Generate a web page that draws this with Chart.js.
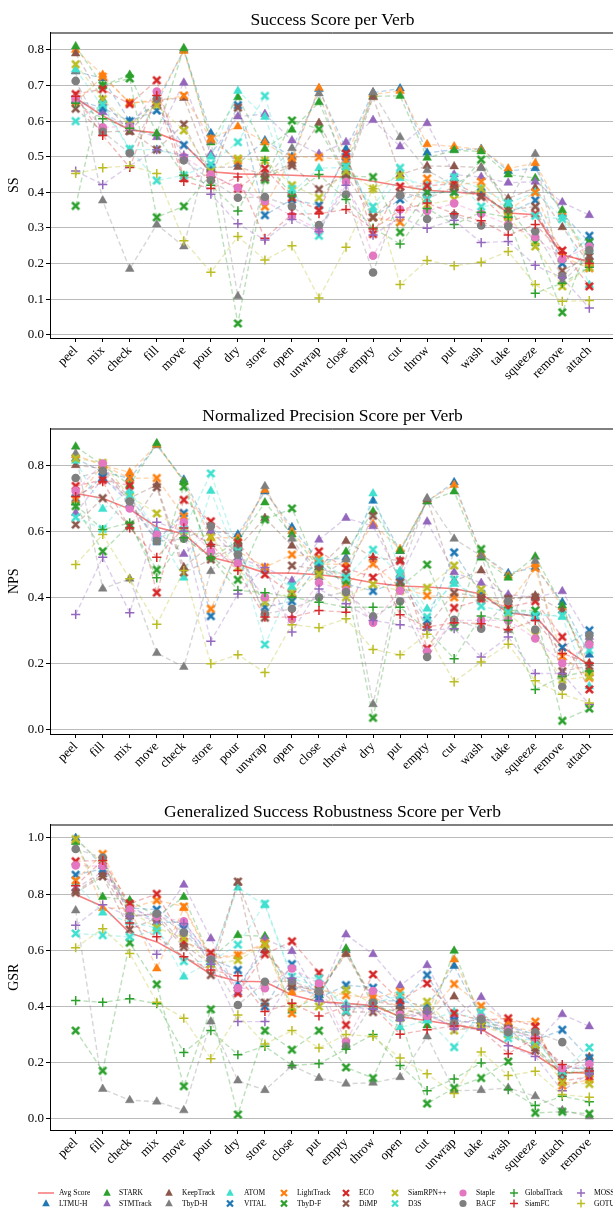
<!DOCTYPE html>
<html>
<head>
<meta charset="utf-8">
<script src="https://cdn.jsdelivr.net/npm/chart.js@4.4.1/dist/chart.umd.min.js"></script>
<style>
  html, body { margin: 0; padding: 0; width: 613px; height: 1210px; overflow: hidden; background: #fff; }
  canvas.plot { position: absolute; left: 0; }
  #legendMarks { position: absolute; left: 0; top: 1180px; }
  .lg { position: absolute; white-space: nowrap; font-family: 'Liberation Serif', 'DejaVu Serif', serif;
        font-size: 7.5px; line-height: 10px; height: 10px; color: #000; }
</style>
</head>
<body>
<canvas id="ssChart" class="plot" width="680" height="396" style="top:0px"></canvas>
<canvas id="npsChart" class="plot" width="680" height="396" style="top:396px"></canvas>
<canvas id="gsrChart" class="plot" width="680" height="396" style="top:792px"></canvas>
<canvas id="legendMarks" width="613" height="30"></canvas>
<div id="legendText"></div>

<script>
const SERIF = "'Liberation Serif', 'DejaVu Serif', serif";

const trackers = ['LTMU-H', 'LTMU-F', 'STARK', 'STMTrack', 'KeepTrack', 'TbyD-H', 'ATOM', 'VITAL',
                  'LightTrack', 'TbyD-F', 'ECO', 'DiMP', 'SiamRPN++', 'D3S', 'Staple', 'BACF',
                  'GlobalTrack', 'SiamFC', 'MOSSE', 'GOTURN'];
const colors = ['#1f77b4', '#ff7f0e', '#2ca02c', '#9467bd', '#8c564b', '#7f7f7f', '#40e0d0', '#1f77b4',
                '#ff7f0e', '#2ca02c', '#d62728', '#8c564b', '#bcbd22', '#40e0d0', '#e377c2', '#7f7f7f',
                '#2ca02c', '#d62728', '#9467bd', '#bcbd22'];
const markers = ['tri', 'tri', 'tri', 'tri', 'tri', 'tri', 'tri', 'x',
                 'x', 'x', 'x', 'x', 'x', 'x', 'circle', 'circle',
                 'plus', 'plus', 'plus', 'plus'];

// ---- Success Score (SS) ----
const ssVerbs = ['peel','mix','check','fill','move','pour','dry','store','open','unwrap',
                 'close','empty','cut','throw','put','wash','take','squeeze','remove','attach'];
const ssAvg = [.665,.615,.575,.567,.537,.458,.452,.45,.448,.445,.443,.431,.418,.406,.401,.395,.342,.337,.224,.206];
const ssScores = [
  [.74,.72,.60,.65,.80,.566,.48,.546,.50,.69,.522,.68,.692,.511,.52,.522,.46,.468,.34,.26],      // LTMU-H
  [.80,.73,.65,.66,.797,.55,.585,.54,.49,.693,.50,.675,.685,.535,.529,.52,.467,.482,.345,.20],  // LTMU-F
  [.81,.70,.73,.565,.805,.54,.667,.522,.576,.653,.48,.67,.671,.497,.518,.515,.45,.44,.35,.21],  // STARK
  [.66,.625,.58,.555,.708,.507,.613,.62,.546,.508,.541,.603,.529,.594,.45,.443,.427,.43,.372,.336], // STMTrack
  [.79,.66,.57,.66,.665,.47,.471,.45,.48,.595,.45,.667,.45,.474,.473,.47,.383,.413,.302,.20],   // KeepTrack
  [.74,.377,.185,.31,.248,.545,.108,.44,.524,.678,.46,.681,.555,.462,.42,.468,.37,.508,.15,.22], // TbyD-H
  [.745,.64,.52,.52,.50,.50,.685,.612,.40,.468,.47,.35,.44,.42,.44,.41,.37,.40,.33,.14],        // ATOM
  [.66,.637,.60,.63,.533,.47,.645,.336,.38,.364,.50,.33,.38,.40,.40,.40,.34,.378,.20,.278],     // VITAL
  [.653,.725,.652,.655,.672,.55,.49,.36,.499,.499,.49,.33,.316,.439,.42,.43,.35,.40,.22,.187],  // LightTrack
  [.362,.70,.72,.33,.361,.45,.032,.435,.602,.578,.446,.443,.288,.40,.40,.492,.355,.26,.063,.26], // TbyD-F
  [.676,.69,.648,.715,.44,.45,.41,.467,.385,.35,.509,.283,.417,.418,.425,.39,.318,.34,.237,.136], // ECO
  [.635,.57,.572,.52,.591,.44,.638,.441,.475,.409,.45,.33,.40,.382,.415,.387,.35,.36,.18,.22],  // DiMP
  [.76,.662,.59,.645,.574,.46,.495,.49,.42,.385,.46,.41,.448,.366,.38,.41,.33,.248,.136,.19],   // SiamRPN++
  [.60,.648,.522,.433,.448,.48,.541,.671,.41,.278,.473,.36,.469,.38,.443,.36,.369,.334,.325,.24], // D3S
  [.662,.583,.585,.683,.50,.45,.413,.375,.334,.295,.43,.222,.352,.348,.369,.34,.31,.274,.213,.248], // Staple
  [.713,.57,.51,.662,.49,.434,.385,.387,.36,.308,.394,.175,.392,.325,.336,.307,.304,.291,.164,.238], // BACF
  [.65,.607,.58,.56,.448,.42,.348,.49,.39,.45,.38,.30,.255,.355,.31,.344,.33,.117,.145,.19],    // GlobalTrack
  [.67,.56,.47,.672,.431,.411,.443,.271,.339,.34,.352,.297,.35,.37,.34,.32,.28,.31,.23,.20],    // SiamFC
  [.46,.422,.475,.52,.505,.395,.312,.266,.324,.29,.42,.28,.33,.299,.322,.259,.262,.195,.16,.075], // MOSSE
  [.453,.469,.475,.453,.264,.176,.276,.21,.25,.103,.246,.41,.141,.209,.194,.204,.234,.141,.094,.096] // GOTURN
];
const ssTicks = [0, .1, .2, .3, .4, .5, .6, .7, .8];

// ---- Normalized Precision Score (NPS) ----
const npsVerbs = ['peel','fill','mix','move','check','store','pour','unwrap','open','close',
                  'throw','dry','put','empty','cut','wash','take','squeeze','remove','attach'];
const npsAvg = [.714,.70,.667,.612,.592,.521,.501,.474,.473,.468,.459,.444,.434,.431,.426,.41,.353,.343,.25,.194];
const npsScores = [
  [.82,.78,.76,.86,.756,.60,.59,.72,.612,.51,.52,.692,.54,.69,.748,.53,.473,.49,.385,.226],
  [.83,.80,.778,.862,.75,.58,.58,.725,.60,.50,.50,.622,.546,.692,.74,.531,.465,.50,.37,.18],
  [.856,.80,.74,.866,.75,.52,.57,.687,.59,.49,.538,.66,.54,.69,.72,.52,.459,.523,.375,.17],
  [.655,.76,.70,.60,.531,.60,.52,.49,.45,.574,.64,.615,.46,.629,.476,.443,.408,.40,.418,.28],
  [.80,.79,.70,.74,.491,.56,.55,.64,.556,.49,.57,.52,.511,.697,.45,.481,.395,.405,.36,.20],
  [.835,.426,.456,.231,.189,.479,.56,.736,.577,.46,.514,.076,.47,.70,.577,.525,.30,.51,.17,.27],
  [.813,.667,.722,.60,.459,.722,.51,.48,.43,.51,.453,.714,.48,.365,.44,.40,.36,.353,.34,.13],
  [.70,.763,.684,.57,.655,.343,.55,.37,.388,.50,.44,.419,.45,.33,.536,.41,.36,.34,.248,.30],
  [.695,.80,.76,.761,.645,.365,.54,.491,.529,.52,.44,.501,.43,.405,.40,.40,.38,.488,.221,.156],
  [.676,.539,.62,.483,.735,.526,.453,.635,.669,.48,.45,.035,.43,.499,.31,.546,.36,.36,.026,.063],
  [.737,.755,.738,.414,.695,.63,.565,.469,.41,.539,.488,.46,.51,.245,.368,.392,.37,.388,.28,.121],
  [.62,.70,.615,.733,.475,.514,.555,.338,.496,.485,.47,.647,.444,.31,.414,.40,.395,.40,.176,.192],
  [.821,.807,.705,.654,.60,.582,.49,.385,.415,.47,.40,.439,.42,.429,.496,.424,.35,.285,.15,.16],
  [.642,.607,.71,.58,.605,.775,.54,.257,.434,.51,.46,.544,.471,.34,.454,.373,.355,.345,.345,.24],
  [.722,.805,.669,.59,.627,.539,.503,.40,.333,.444,.42,.323,.42,.236,.33,.33,.33,.275,.20,.257],
  [.761,.783,.69,.57,.577,.615,.529,.35,.365,.40,.416,.342,.388,.219,.332,.305,.388,.302,.129,.285],
  [.68,.605,.625,.459,.58,.52,.421,.414,.40,.385,.37,.37,.37,.30,.214,.343,.33,.121,.16,.177],
  [.705,.75,.61,.521,.61,.56,.481,.34,.34,.36,.355,.521,.347,.31,.323,.32,.302,.33,.23,.20],
  [.348,.521,.353,.627,.60,.267,.41,.49,.295,.425,.38,.33,.317,.30,.305,.219,.28,.169,.169,.076],
  [.499,.59,.456,.318,.481,.199,.226,.172,.317,.308,.335,.242,.226,.288,.144,.204,.258,.147,.106,.08]
];
const npsTicks = [0, .2, .4, .6, .8];

// ---- Generalized Success Robustness (GSR) ----
const gsrVerbs = ['peel','fill','check','mix','move','pour','dry','store','close','put',
                  'empty','throw','open','cut','unwrap','take','wash','squeeze','attach','remove'];
const gsrAvg = [.799,.756,.662,.63,.577,.515,.49,.488,.441,.417,.411,.403,.364,.349,.335,.319,.264,.228,.165,.163];
const gsrScores = [
  [1.0,.90,.76,.70,.70,.58,.475,.60,.47,.44,.60,.42,.42,.40,.544,.36,.33,.30,.18,.18],
  [.99,.75,.75,.535,.75,.57,.58,.62,.45,.46,.59,.43,.40,.38,.567,.37,.33,.31,.17,.16],
  [.985,.79,.778,.72,.79,.57,.654,.65,.385,.44,.606,.40,.38,.332,.598,.35,.32,.29,.16,.17],
  [.82,.88,.74,.70,.833,.642,.45,.64,.597,.43,.656,.586,.474,.547,.36,.433,.34,.27,.372,.329],
  [.81,.87,.72,.73,.62,.55,.84,.60,.48,.45,.586,.42,.40,.36,.435,.34,.30,.25,.17,.22],
  [.742,.106,.066,.061,.03,.346,.136,.102,.189,.145,.125,.128,.148,.293,.10,.102,.11,.08,.03,.008],
  [.84,.734,.70,.68,.506,.56,.823,.76,.50,.47,.41,.40,.325,.35,.38,.35,.30,.26,.15,.20],
  [.869,.89,.75,.745,.677,.57,.53,.40,.551,.43,.476,.467,.408,.512,.35,.34,.31,.28,.317,.216],
  [.849,.943,.75,.778,.756,.575,.583,.625,.375,.46,.44,.43,.453,.37,.48,.402,.345,.346,.118,.14],
  [.314,.171,.627,.479,.116,.39,.015,.314,.246,.314,.183,.145,.36,.054,.11,.145,.204,.021,.025,.018],
  [.917,.92,.766,.801,.63,.591,.447,.586,.632,.52,.334,.514,.42,.482,.376,.35,.358,.329,.134,.15],
  [.805,.863,.674,.715,.612,.512,.845,.414,.47,.46,.38,.38,.39,.37,.33,.33,.32,.243,.161,.17],
  [.996,.91,.74,.68,.644,.55,.565,.62,.40,.40,.459,.41,.36,.417,.314,.33,.30,.264,.13,.124],
  [.66,.654,.648,.67,.561,.56,.62,.766,.506,.50,.384,.41,.44,.355,.255,.38,.287,.28,.17,.254],
  [.902,.90,.745,.72,.703,.57,.465,.465,.535,.482,.275,.455,.37,.366,.33,.36,.315,.29,.18,.195],
  [.961,.93,.722,.73,.663,.567,.405,.488,.49,.453,.258,.414,.36,.385,.34,.355,.308,.308,.273,.163],
  [.421,.415,.427,.41,.236,.314,.228,.258,.19,.196,.248,.30,.19,.10,.142,.199,.104,.047,.08,.061],
  [.83,.92,.697,.648,.577,.53,.509,.382,.411,.366,.40,.40,.301,.317,.33,.317,.232,.287,.193,.17],
  [.689,.762,.72,.586,.695,.55,.346,.346,.50,.42,.40,.39,.35,.38,.32,.32,.26,.222,.10,.16],
  [.609,.677,.589,.415,.358,.214,.37,.266,.314,.252,.30,.293,.216,.16,.09,.238,.154,.169,.086,.077]
];
const gsrTicks = [0, .2, .4, .6, .8, 1.0];

const AVG_COLOR = '#f87f7f';

function rgba(hex, a) {
  const n = parseInt(hex.slice(1), 16);
  return `rgba(${(n >> 16) & 255},${(n >> 8) & 255},${n & 255},${a})`;
}

// filled "X" marker like matplotlib's 'X'
function drawX(ctx, cx, cy, r, color) {
  ctx.save();
  ctx.strokeStyle = color;
  ctx.lineWidth = r * 0.75;
  ctx.beginPath();
  ctx.moveTo(cx - r, cy - r); ctx.lineTo(cx + r, cy + r);
  ctx.moveTo(cx + r, cy - r); ctx.lineTo(cx - r, cy + r);
  ctx.stroke();
  ctx.restore();
}

function makeXImage(color) {
  const c = document.createElement('canvas');
  c.width = 11; c.height = 11;
  drawX(c.getContext('2d'), 5.5, 5.5, 3.6, color);
  return c;
}

function buildDatasets(scores, avg) {
  const n = trackers.length;
  const sets = [{
    label: 'Avg Score',
    data: avg.map((v, i) => ({ x: i, y: v })),
    borderColor: AVG_COLOR, borderWidth: 1.6, pointRadius: 0, order: n + 1
  }];
  trackers.forEach((name, k) => {
    const col = colors[k];
    const m = markers[k];
    const ds = {
      label: name,
      data: scores[k].map((v, i) => ({ x: i, y: v })),
      borderColor: rgba(col, 0.32), borderWidth: 1.4, borderDash: [5, 3],
      pointBackgroundColor: col, pointBorderColor: col,
      order: n - k
    };
    if (m === 'tri') Object.assign(ds, { pointStyle: 'triangle', pointRadius: 5, pointBorderWidth: 0.5 });
    if (m === 'circle') Object.assign(ds, { pointStyle: 'circle', pointRadius: 4.3, pointBorderWidth: 0 });
    if (m === 'plus') Object.assign(ds, { pointStyle: 'cross', pointRadius: 4.6, pointBorderWidth: 1.5 });
    if (m === 'x') Object.assign(ds, { pointStyle: makeXImage(col), pointRadius: 5 });
    sets.push(ds);
  });
  return sets;
}

// top spine, and title centred over the plot area like matplotlib
const frame = {
  id: 'frame',
  afterLayout(chart) {
    const t = chart.titleBlock, a = chart.chartArea;
    if (t) { t.left = a.left; t.right = a.right; t.width = a.right - a.left; }
  },
  afterDraw(chart) {
    const { ctx, chartArea: a } = chart;
    ctx.save();
    ctx.strokeStyle = '#000';
    ctx.lineWidth = 1;
    ctx.beginPath();
    ctx.moveTo(a.left, a.top + 0.5);
    ctx.lineTo(a.right, a.top + 0.5);
    ctx.lineTo(a.right, a.bottom);
    ctx.stroke();
    ctx.restore();
  }
};

function drawChart(id, title, ylabel, verbs, avg, scores, yMin, yMax, yTicks) {
  new Chart(document.getElementById(id), {
    type: 'line',
    data: { datasets: buildDatasets(scores, avg) },
    plugins: [frame],
    options: {
      responsive: false, animation: false, devicePixelRatio: 1,
      layout: { padding: { left: 0, right: 65, top: 0, bottom: 0 } },
      plugins: {
        legend: { display: false },
        tooltip: { enabled: false },
        title: {
          display: true, text: title, color: '#000',
          font: { size: 17.5, family: SERIF, weight: 'normal' },
          padding: { top: 10, bottom: 1.5 }
        }
      },
      scales: {
        x: {
          type: 'linear', min: -0.95, max: verbs.length - 0.05,
          afterBuildTicks: s => { s.ticks = verbs.map((v, i) => ({ value: i })); },
          afterFit: s => { s.height = 58; },
          ticks: {
            autoSkip: false, minRotation: 45, maxRotation: 45, padding: 1, color: '#000',
            font: { size: 13, family: SERIF }, callback: v => verbs[v]
          },
          grid: { drawOnChartArea: false, drawTicks: true, tickLength: 4, tickColor: '#000' },
          border: { color: '#000', width: 1 }
        },
        y: {
          min: yMin, max: yMax,
          afterBuildTicks: s => { s.ticks = yTicks.map(v => ({ value: v })); },
          afterFit: s => { s.width = 50; },
          ticks: { padding: 2, color: '#000', font: { size: 13, family: SERIF }, callback: v => v.toFixed(1) },
          grid: { color: 'rgba(150,150,150,0.65)', lineWidth: 1, tickColor: '#000', tickLength: 4 },
          border: { color: '#000', width: 1 },
          title: {
            display: true, text: ylabel, color: '#000',
            font: { size: 14, family: SERIF }, padding: { top: 6, bottom: 0 }
          }
        }
      }
    }
  });
}

drawChart('ssChart', 'Success Score per Verb', 'SS', ssVerbs, ssAvg, ssScores, -0.009, 0.849, ssTicks);
drawChart('npsChart', 'Normalized Precision Score per Verb', 'NPS', npsVerbs, npsAvg, npsScores, -0.014, 0.911, npsTicks);
drawChart('gsrChart', 'Generalized Success Robustness Score per Verb', 'GSR', gsrVerbs, gsrAvg, gsrScores, -0.040, 1.048, gsrTicks);

// legend: matplotlib-style, filled column by column, cut at the page bottom
function drawLegend() {
  const cols = [[46, 59], [107, 119], [169, 182], [230, 244], [284, 297],
                [346, 359], [395, 408], [463, 476], [514, 525], [581, 594]];
  const rows = [13, 23.5, 34];
  const items = [{ name: 'Avg Score', kind: 'line', color: AVG_COLOR }]
    .concat(trackers.map((t, k) => ({ name: t, kind: markers[k], color: colors[k] })));
  const layout = [3, 2, 2, 2, 2, 2, 2, 2, 2, 2];
  const ctx = document.getElementById('legendMarks').getContext('2d');
  const box = document.getElementById('legendText');
  let idx = 0;
  layout.forEach((cnt, c) => {
    for (let r = 0; r < cnt; r++) {
      const it = items[idx++];
      const [mx, tx] = cols[c];
      const cy = rows[r];
      ctx.fillStyle = it.color; ctx.strokeStyle = it.color;
      if (it.kind === 'line') {
        ctx.lineWidth = 1.6;
        ctx.beginPath(); ctx.moveTo(mx - 8, cy); ctx.lineTo(mx + 8, cy); ctx.stroke();
      } else if (it.kind === 'tri') {
        ctx.beginPath(); ctx.moveTo(mx, cy - 4.2); ctx.lineTo(mx + 3.8, cy + 2.8); ctx.lineTo(mx - 3.8, cy + 2.8);
        ctx.closePath(); ctx.fill();
      } else if (it.kind === 'circle') {
        ctx.beginPath(); ctx.arc(mx, cy, 3.6, 0, Math.PI * 2); ctx.fill();
      } else if (it.kind === 'x') {
        drawX(ctx, mx, cy, 3, it.color);
      } else {
        ctx.lineWidth = 1.4;
        ctx.beginPath(); ctx.moveTo(mx - 4, cy); ctx.lineTo(mx + 4, cy);
        ctx.moveTo(mx, cy - 4); ctx.lineTo(mx, cy + 4); ctx.stroke();
      }
      const s = document.createElement('span');
      s.className = 'lg';
      s.textContent = it.name;
      s.style.left = tx + 'px';
      s.style.top = (1180 + cy - 5) + 'px';
      box.appendChild(s);
    }
  });
}
drawLegend();
</script>
</body>
</html>
